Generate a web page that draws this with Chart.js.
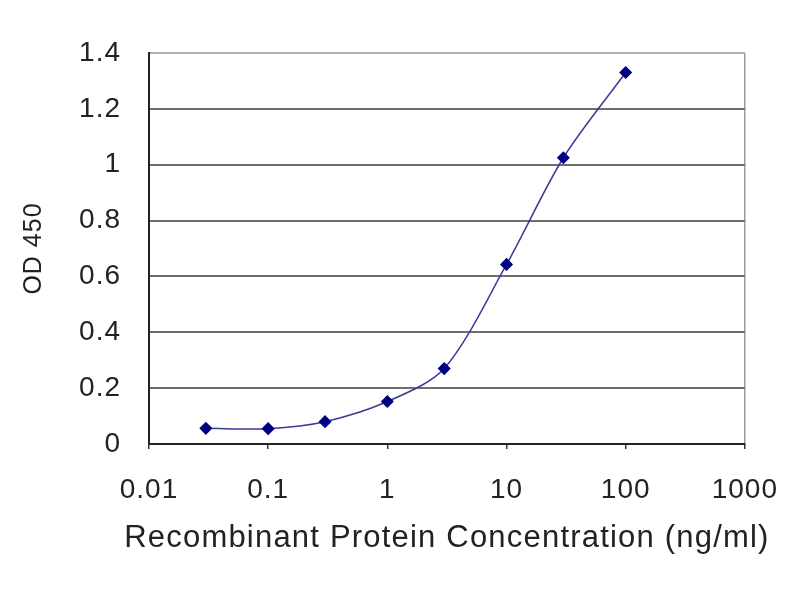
<!DOCTYPE html>
<html lang="en">
<head>
<meta charset="UTF-8" />
<title>OD 450 vs Recombinant Protein Concentration</title>
<script src="https://cdn.jsdelivr.net/npm/chart.js"></script>
<style>
body {
    margin: 0;
    background: #ffffff;
}
.chart-box {
    width: 800px;
    height: 600px;
}
</style>
</head>
<body>
<div class="chart-box">
    <canvas id="odChart"></canvas>
</div>

<script>
// concentration (ng/ml) and measured OD 450
const concentrations = [0.03, 0.1, 0.3, 1, 3, 10, 30, 100];
const odValues = [0.056, 0.055, 0.08, 0.152, 0.27, 0.643, 1.025, 1.33];

// axis ticks
const xTicks = [0.01, 0.1, 1, 10, 100, 1000];
const yTicks = [0, 0.2, 0.4, 0.6, 0.8, 1, 1.2, 1.4];

const xTitle = 'Recombinant Protein Concentration (ng/ml)';
const textColor = '#222222';

// the original is a bit stretched sideways, widen the text a little
const spacing = {
    id: 'spacing',
    beforeDraw(chart) {
        chart.ctx.letterSpacing = '1px';
    }
};

// x title is wider than the plot, Chart.js would squeeze it to the axis width
const wideXTitle = {
    id: 'wideXTitle',
    afterDraw(chart) {
        const { ctx, chartArea } = chart;
        ctx.save();
        ctx.letterSpacing = '1.2px';
        ctx.font = '31px "Liberation Sans", Arial';
        ctx.fillStyle = textColor;
        ctx.textAlign = 'center';
        ctx.textBaseline = 'middle';
        ctx.fillText(xTitle, (chartArea.left + chartArea.right) / 2, 538);
        ctx.restore();
    }
};

new Chart(document.getElementById('odChart'), {
    type: 'line',
    data: {
        datasets: [{
            label: 'OD 450',
            data: concentrations.map((c, i) => ({ x: c, y: odValues[i] })),
            borderColor: '#3a3a99',
            borderWidth: 1.5,
            tension: 0.3,
            pointStyle: 'rectRot',
            pointRadius: 5.5,
            pointBackgroundColor: '#000080',
            pointBorderColor: '#000080',
            fill: false
        }]
    },
    options: {
        responsive: true,
        maintainAspectRatio: false,
        animation: false,
        layout: { padding: { top: 53, right: 55, left: 0, bottom: 0 } },
        plugins: {
            legend: { display: false },
            tooltip: { enabled: false }
        },
        scales: {
            x: {
                type: 'logarithmic',
                min: 0.01,
                max: 1000,
                afterBuildTicks: (scale) => { scale.ticks = xTicks.map(v => ({ value: v })); },
                afterFit: (scale) => { scale.height = 156; },
                ticks: {
                    color: textColor,
                    padding: 24,
                    maxRotation: 0,
                    font: { family: 'Liberation Sans, Arial', size: 28 },
                    callback: (v) => String(v)
                },
                grid: {
                    color: (ctx) => ctx.tick && ctx.tick.value === 1000 ? '#9a9a9a' : 'transparent',
                    tickColor: '#333333',
                    tickLength: 5,
                    lineWidth: 1.5
                },
                border: { color: '#222222', width: 2 }
            },
            y: {
                min: 0,
                max: 1.4,
                afterBuildTicks: (scale) => { scale.ticks = yTicks.map(v => ({ value: v })); },
                afterFit: (scale) => { scale.width = 149; },
                ticks: {
                    color: textColor,
                    padding: 28,
                    font: { family: 'Liberation Sans, Arial', size: 28 },
                    callback: (v) => String(Number(v.toFixed(1)))
                },
                grid: {
                    color: (ctx) => ctx.tick && ctx.tick.value === 1.4 ? '#b0b0b0' : '#6e6e6e',
                    lineWidth: 2,
                    drawTicks: false
                },
                border: { color: '#222222', width: 2 },
                title: {
                    display: true,
                    text: 'OD 450',
                    color: textColor,
                    font: { family: 'Liberation Sans, Arial', size: 25 },
                    padding: { top: 19, bottom: 0 }
                }
            }
        }
    },
    plugins: [spacing, wideXTitle]
});
</script>
</body>
</html>
